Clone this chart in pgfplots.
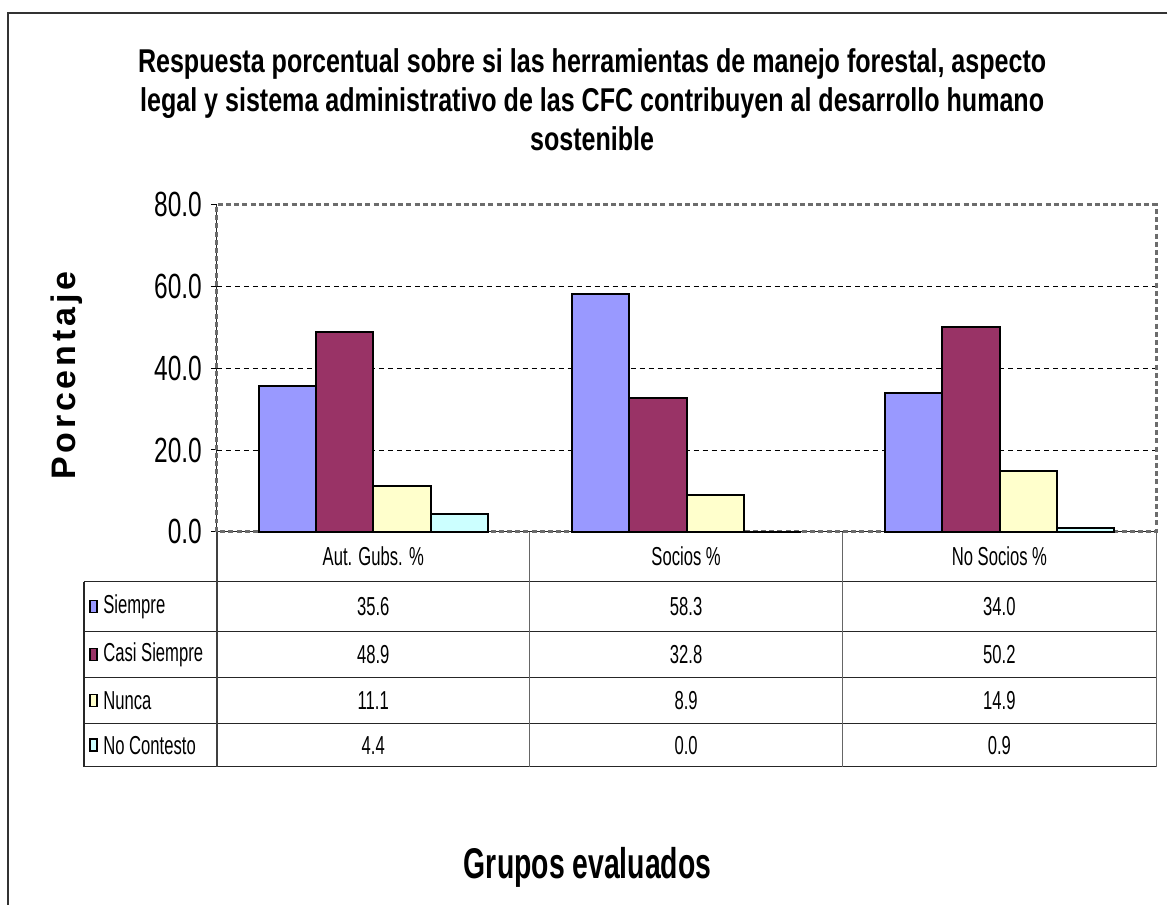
\documentclass[border=0pt]{standalone}
\usepackage{fontspec}
\setmainfont{Liberation Sans}
\newfontfamily\titlef{Liberation Sans}[FakeStretch=0.76]
\newfontfamily\tickf{Liberation Sans}[FakeStretch=0.7]
\newfontfamily\tablef{Liberation Sans}[FakeStretch=0.64]
\newfontfamily\xlabf{Liberation Sans}[FakeStretch=0.66]
\usepackage{pgfplots}
\usepackage{pgfplotstable}
\pgfplotsset{compat=1.18}
\definecolor{siempre}{HTML}{9999FF}
\definecolor{casi}{HTML}{993366}
\definecolor{nunca}{HTML}{FFFFCC}
\definecolor{nocont}{HTML}{CCFFFF}
\pgfplotstableread{
x siempre casi nunca nocont
0 35.6 48.9 11.1 4.4
1 58.3 32.8 8.9 0.0
2 34.0 50.2 14.9 0.9
}\datatable
\newcommand{\ls}{\hspace{1.9pt}}
\begin{document}
\begin{tikzpicture}
\begin{scope}[x=0.5pt,y=-0.5pt]
\path[use as bounding box] (0,0) rectangle (1168,906);
\end{scope}
\begin{axis}[at={(108.5pt,-266pt)}, anchor=south west, scale only axis,
  width=470pt, height=163.5pt, xmin=-0.5, xmax=2.5, ymin=0, ymax=80,
  clip=false, axis x line*=bottom, axis y line*=left,
  axis line style={black!85, line width=0.6pt, -},
  xtick=\empty, ytick={0,20,40,60,80},
  yticklabels={0.0,20.0,40.0,60.0,80.0},
  tick align=outside, major tick length=3pt,
  ytick style={black, line width=0.5pt},
  yticklabel style={font=\tickf\fontsize{17.5}{18}\selectfont, xshift=-1pt},
  ]
\pgfplotsinvokeforeach{20,40,60}{\draw[black, dash pattern=on 2.5pt off 2pt, line width=0.45pt] (axis cs:-0.5,#1) -- (axis cs:2.5,#1);}
\draw[gray!85!black, line width=1.5pt, dash pattern=on 2.5pt off 1.6pt] (axis cs:-0.5,0) rectangle (axis cs:2.5,80);
\addplot[ybar, bar width=0.183, bar shift=-0.2745, fill=siempre, draw=black, line width=1pt] table[x=x,y=siempre]{\datatable};
\addplot[ybar, bar width=0.183, bar shift=-0.0915, fill=casi, draw=black, line width=1pt] table[x=x,y=casi]{\datatable};
\addplot[ybar, bar width=0.183, bar shift=0.0915, fill=nunca, draw=black, line width=1pt] table[x=x,y=nunca]{\datatable};
\addplot[ybar, bar width=0.183, bar shift=0.2745, fill=nocont, draw=black, line width=1pt] table[x=x,y=nocont]{\datatable};
\end{axis}
\begin{scope}[x=0.5pt,y=-0.5pt]
% outer frame
\draw[black!80, line width=0.7pt] (1168,13) -- (8,13) -- (8,906);
% title
\begin{scope}[font=\titlef\bfseries\fontsize{16.5}{18}\selectfont]
\node[anchor=base] at (592.5,73) {Respuesta porcentual sobre si las herramientas de manejo forestal, aspecto};
\node[anchor=base] at (592.5,112) {legal y sistema administrativo de las CFC contribuyen al desarrollo humano};
\node[anchor=base] at (592.5,151) {sostenible};
\end{scope}
% y label
\node[rotate=90, font=\bfseries\fontsize{17}{18}\selectfont] at (67,376) {P\ls o\ls r\ls c\ls e\ls n\ls t\ls a\ls j\ls e};
% x label
\node[anchor=base, font=\xlabf\bfseries\fontsize{21.5}{22}\selectfont] at (588,879) {Grupos evaluados};
% data table lines
\foreach \yy in {582,632,678,724,767} {\draw[black!85, line width=0.6pt] (84,\yy) -- (1157,\yy);}
\draw[black!85, line width=0.6pt] (84,582) -- (84,767);
\draw[black!75, line width=0.7pt] (217,532) -- (217,767);
\foreach \xx in {530,843,1157} {\draw[black!60, line width=0.7pt] (\xx,532) -- (\xx,767);}
\begin{scope}[font=\tablef\fontsize{13}{14}\selectfont]
\node at (373.5,557) {Aut. Gubs. \%};
\node at (686.5,557) {Socios \%};
\node at (1000,557) {No Socios \%};
\foreach \c/\col/\lab/\a/\b/\d in {607/siempre/Siempre/35.6/58.3/34.0, 655/casi/Casi Siempre/48.9/32.8/50.2, 701/nunca/Nunca/11.1/8.9/14.9, 745.5/nocont/No Contesto/4.4/0.0/0.9} {
  \draw[fill=\col, draw=black, line width=0.6pt] (90,\c-6) rectangle (97,\c+6);
  \node[anchor=west, inner sep=0pt] at (103,\c) {\lab};
  \node at (373.5,\c) {\a};
  \node at (686.5,\c) {\b};
  \node at (1000,\c) {\d};
}
\end{scope}
\end{scope}
\end{tikzpicture}
\end{document}
